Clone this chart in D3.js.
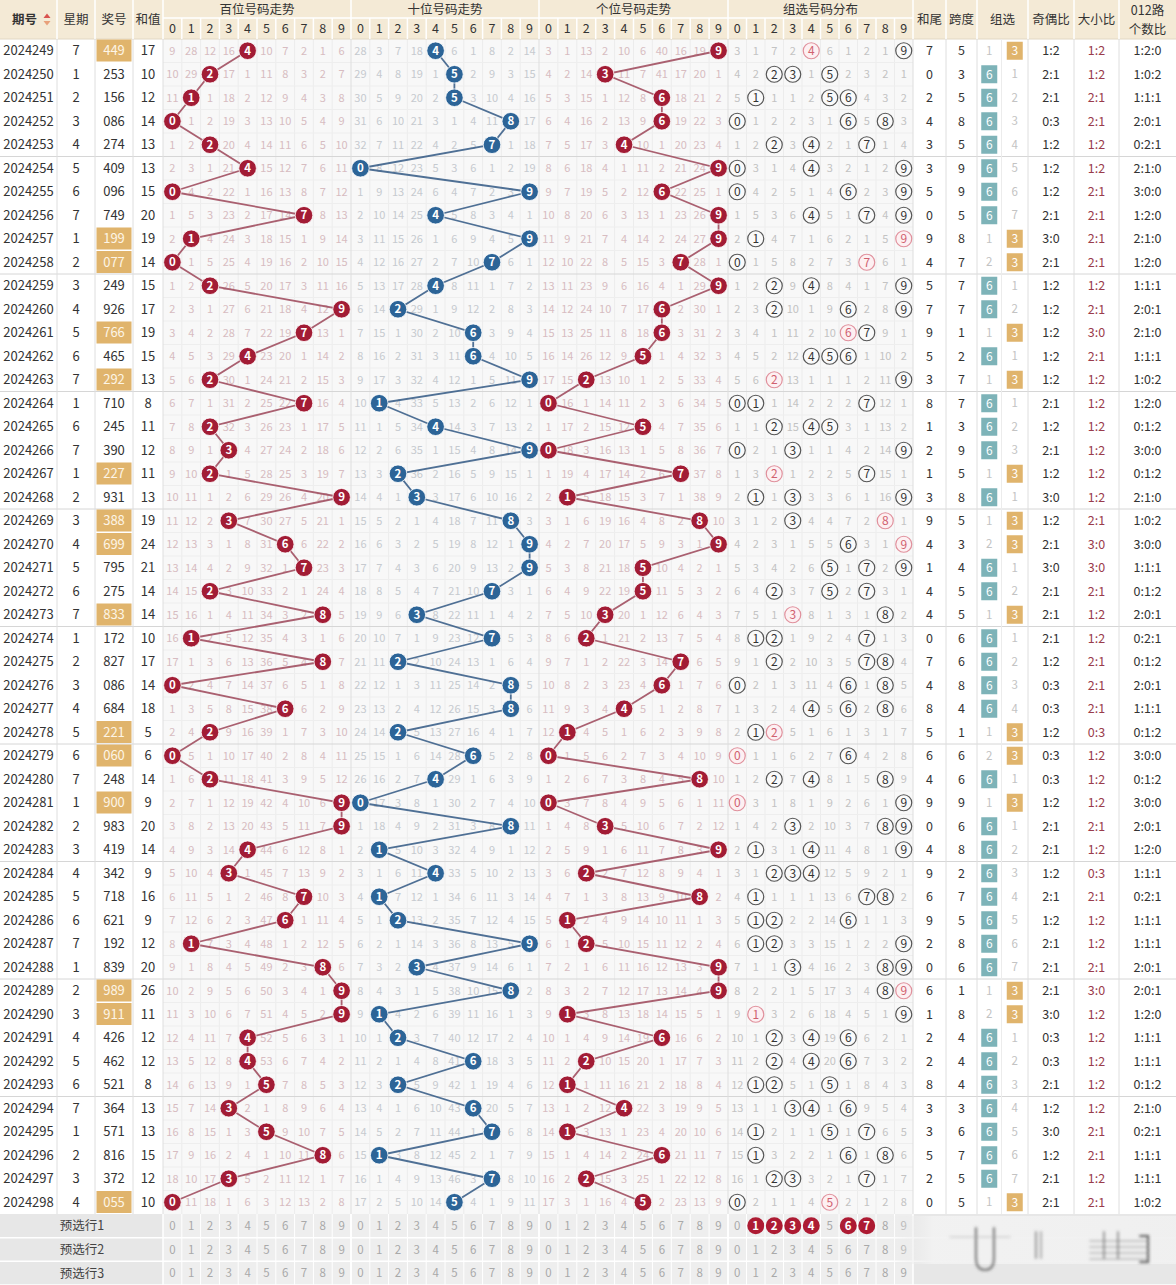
<!DOCTYPE html>
<html><head><meta charset="utf-8">
<script src="https://cdn.jsdelivr.net/npm/d3@7"></script>
<style>
body{margin:0;background:#fff;}
svg{display:block;font-family:"Noto Sans CJK SC","Noto Sans",sans-serif;}
</style>
</head><body>
<svg id="c" width="1176" height="1285"></svg>
<script>
// ---------------- DATA ----------------
const periods=["2024249","2024250","2024251","2024252","2024253","2024254","2024255","2024256","2024257","2024258",
"2024259","2024260","2024261","2024262","2024263","2024264","2024265","2024266","2024267","2024268",
"2024269","2024270","2024271","2024272","2024273","2024274","2024275","2024276","2024277","2024278",
"2024279","2024280","2024281","2024282","2024283","2024284","2024285","2024286","2024287","2024288",
"2024289","2024290","2024291","2024292","2024293","2024294","2024295","2024296","2024297","2024298"];
const weekdays=[7,1,2,3,4,5,6,7,1,2, 3,4,5,6,7,1,6,7,1,2, 3,4,5,6,7,1,2,3,4,5, 6,7,1,2,3,4,5,6,7,1, 2,3,4,5,6,7,1,2,3,4];
const draws=["449","253","156","086","274","409","096","749","199","077",
"249","926","766","465","292","710","245","390","227","931",
"388","699","795","275","833","172","827","086","684","221",
"060","248","900","983","419","342","718","621","192","839",
"989","911","426","462","521","364","571","816","372","055"];
const sums=[17,10,12,14,13,13,15,20,19,14, 15,17,19,15,13,8,11,12,11,13, 19,24,21,14,14,10,17,14,18,5, 6,14,9,20,14,9,16,9,12,20, 26,11,12,12,8,13,13,15,12,10];
// omission values shown on the first row (2024249)
const hundredsMissFirst=[9,28,12,16,0,10,7,2,1,6];
const tensMissFirst=[28,3,7,18,0,6,1,8,2,14];
const unitsMissFirst=[3,1,13,2,10,6,40,16,19,0];
const groupMissFirst=[3,1,7,2,0,6,1,2,1,0];
const zu6MissFirst=1, zu3MissFirst=0;
const preselectPicks=[1,2,3,4,6,7];
const digitLabels=["0","1","2","3","4","5","6","7","8","9"];
const sectionTitles=["百位号码走势","十位号码走势","个位号码走势","组选号码分布"];
const preselectLabels=["预选行1","预选行2","预选行3"];

// ---------------- DERIVED ----------------
const digits=draws.map(s=>s.split("").map(Number));
function missSeries(first,hit){
  const out=[];let cur=first.slice();
  digits.forEach((dg,i)=>{ if(i>0) cur=cur.map((v,d)=>hit(dg,d)?0:v+1); out.push(cur.slice()); });
  return out;
}
const missH=missSeries(hundredsMissFirst,(dg,d)=>dg[0]===d);
const missT=missSeries(tensMissFirst,(dg,d)=>dg[1]===d);
const missU=missSeries(unitsMissFirst,(dg,d)=>dg[2]===d);
const missG=missSeries(groupMissFirst,(dg,d)=>dg.includes(d));
const isZ3=digits.map(dg=>new Set(dg).size===2);
const zu6=[],zu3=[];
{let a=zu6MissFirst,b=zu3MissFirst;
 digits.forEach((dg,i)=>{ if(i>0){a=isZ3[i]?a+1:0;b=isZ3[i]?0:b+1;} zu6.push(a);zu3.push(b);});}
const heWei=sums.map(s=>s%10);
const kuaDu=digits.map(dg=>d3.max(dg)-d3.min(dg));
const jiOu=digits.map(dg=>{const o=dg.filter(d=>d%2).length;return o+":"+(3-o);});
const daXiao=digits.map(dg=>{const b=dg.filter(d=>d>=5).length;return b+":"+(3-b);});
const lu012=digits.map(dg=>[0,1,2].map(r=>dg.filter(d=>d%3===r).length).join(":"));

// ---------------- LAYOUT ----------------
const svg=d3.select("#c");
const W=1176,H=1285,hdr1=18,hdrH=39,rowH=23.5,N=periods.length;
const bodyBottom=hdrH+rowH*N;
const y=d3.scaleBand().domain(d3.range(N)).range([hdrH,bodyBottom]);
const yp=d3.scaleBand().domain(d3.range(3)).range([bodyBottom,H]);
const cy=i=>y(i)+y.bandwidth()/2;
const cols={qh:[0,57],xq:[57,95],jh:[95,133],hz:[133,163],
  H:[163,351],T:[351,539],U:[539,728],G:[728,913],
  hw:[913,946],kd:[946,977],zx:[977,1028],jo:[1028,1074],dx:[1074,1119],lu:[1119,1176]};
const band=k=>d3.scaleBand().domain(d3.range(10)).range(cols[k]);
const xs={H:band("H"),T:band("T"),U:band("U"),G:band("G")};
const cx=(k,d)=>xs[k](d)+xs[k].bandwidth()/2;
const mid=k=>(cols[k][0]+cols[k][1])/2;

// backgrounds
svg.append("rect").attr("width",W).attr("height",H).attr("fill","#fff");
["H","T","U","G"].forEach(k=>{
  svg.append("rect").attr("x",cols[k][0]).attr("y",hdrH).attr("width",cols[k][1]-cols[k][0]).attr("height",bodyBottom-hdrH).attr("fill","#f8f8f8");
});
// header background
svg.append("rect").attr("width",W).attr("height",hdrH).attr("fill","#f4ead6");

// grid in trend sections
const grid=svg.append("g");
["H","T","U","G"].forEach(k=>{
  d3.range(1,10).forEach(d=>grid.append("line").attr("x1",xs[k](d)).attr("x2",xs[k](d)).attr("y1",hdrH).attr("y2",bodyBottom).attr("stroke","#ececec"));
});
d3.range(1,N).forEach(i=>{
  const five=i%5===0;
  grid.append("line").attr("x1",five?0:cols.H[0]).attr("x2",five?W:cols.G[1]).attr("y1",y(i)).attr("y2",y(i))
    .attr("stroke",five?"#d6d6d6":"#eeeeee");
});
grid.append("line").attr("x1",0).attr("x2",W).attr("y1",hdrH).attr("y2",hdrH).attr("stroke","#e2d8c4");
// vertical column separators (body)
Object.values(cols).forEach(c=>{ if(c[0]>0) grid.append("line").attr("x1",c[0]).attr("x2",c[0]).attr("y1",hdrH).attr("y2",bodyBottom).attr("stroke","#dedede");});
grid.append("line").attr("x1",1001.5).attr("x2",1001.5).attr("y1",hdrH).attr("y2",bodyBottom).attr("stroke","#ececec");

// header cells borders & text
const hg=svg.append("g").attr("fill","#333").attr("font-size",12.5).attr("text-anchor","middle");
const wl=(x1,y1,x2,y2)=>hg.append("line").attr("x1",x1).attr("y1",y1).attr("x2",x2).attr("y2",y2).attr("stroke","#fff").attr("stroke-width",1.5);
Object.values(cols).forEach(c=>{ if(c[0]>0) wl(c[0],0,c[0],hdrH);});
["H","T","U","G"].forEach((k,si)=>{
  wl(cols[k][0],hdr1,cols[k][1],hdr1);
  d3.range(1,10).forEach(d=>wl(xs[k](d),hdr1,xs[k](d),hdrH));
  hg.append("text").attr("x",mid(k)).attr("y",hdr1/2).attr("dy","0.36em").text(sectionTitles[si]);
  digitLabels.forEach((t,d)=>hg.append("text").attr("x",cx(k,d)).attr("y",(hdr1+hdrH)/2).attr("dy","0.36em").text(t));
});
[["qh","期号"],["xq","星期"],["jh","奖号"],["hz","和值"],["hw","和尾"],["kd","跨度"],["zx","组选"],["jo","奇偶比"],["dx","大小比"]].forEach(([k,t])=>{
  hg.append("text").attr("x",k==="qh"?mid(k)-4:mid(k)).attr("y",hdrH/2).attr("dy","0.36em").attr("font-weight",k==="qh"?600:400).text(t);
});
hg.append("text").attr("x",mid("lu")).attr("y",10).attr("dy","0.36em").text("012路");
hg.append("text").attr("x",mid("lu")).attr("y",29).attr("dy","0.36em").text("个数比");
// sort icon
hg.append("path").attr("d",`M${mid("qh")+15},${hdrH/2-1.5} l3.5,-4.5 l3.5,4.5z`).attr("fill","#d9534f");
hg.append("path").attr("d",`M${mid("qh")+15},${hdrH/2+1.5} l3.5,4.5 l3.5,-4.5z`).attr("fill","#e8a07a");

// left columns
const lg=svg.append("g").attr("font-size",13).attr("fill","#333").attr("text-anchor","middle");
periods.forEach((p,i)=>{
  lg.append("text").attr("x",mid("qh")).attr("y",cy(i)).attr("dy","0.36em").text(p);
  lg.append("text").attr("x",mid("xq")).attr("y",cy(i)).attr("dy","0.36em").text(weekdays[i]);
  if(isZ3[i]) lg.append("rect").attr("x",cols.jh[0]+1.5).attr("y",y(i)+0.5).attr("width",cols.jh[1]-cols.jh[0]-3).attr("height",rowH-1.5).attr("fill","#e0b46c");
  lg.append("text").attr("x",mid("jh")).attr("y",cy(i)).attr("dy","0.36em").attr("fill",isZ3[i]?"#fdf5e6":"#333").text(draws[i]);
  lg.append("text").attr("x",mid("hz")).attr("y",cy(i)).attr("dy","0.36em").text(sums[i]);
});

// omission numbers
const og=svg.append("g").attr("font-size",11).attr("text-anchor","middle");
const sectionMiss={H:missH,T:missT,U:missU,G:missG};
const missColor={H:"#d7bcc1",T:"#c6cacf",U:"#d7bcc1",G:"#c3c3c3"};
["H","T","U","G"].forEach(k=>{
  sectionMiss[k].forEach((row,i)=>row.forEach((v,d)=>{
    if(v===0) return;
    og.append("text").attr("x",cx(k,d)).attr("y",cy(i)).attr("dy","0.36em").attr("fill",missColor[k]).text(v);
  }));
});

// trend lines + balls
const trend=[["H",0,"#a14f60","#a21c35"],["T",1,"#3c6189","#2c6497"],["U",2,"#a14f60","#a21c35"]];
trend.forEach(([k,pos,lc,bc])=>{
  const line=d3.line().x(i=>cx(k,digits[i][pos])).y(i=>cy(i));
  svg.append("path").attr("d",line(d3.range(N))).attr("fill","none").attr("stroke",lc).attr("stroke-width",1.8).attr("stroke-opacity",0.9);
});
trend.forEach(([k,pos,lc,bc])=>{
  const g=svg.append("g");
  digits.forEach((dg,i)=>{
    g.append("circle").attr("cx",cx(k,dg[pos])).attr("cy",cy(i)).attr("r",8.8).attr("fill",bc).attr("stroke","#fff").attr("stroke-width",0.8);
    g.append("text").attr("x",cx(k,dg[pos])).attr("y",cy(i)).attr("dy","0.36em").attr("text-anchor","middle")
      .attr("fill","#fff").attr("font-size",11.5).attr("font-weight",700).text(dg[pos]);
  });
});

// group distribution circles
const gg=svg.append("g").attr("text-anchor","middle");
digits.forEach((dg,i)=>{
  [...new Set(dg)].forEach(d=>{
    const pair=dg.filter(v=>v===d).length>1;
    gg.append("circle").attr("cx",cx("G",d)).attr("cy",cy(i)).attr("r",8).attr("fill",pair?"#fdf0f2":"#fafafa")
      .attr("stroke",pair?"#e0909c":"#555").attr("stroke-width",1.2);
    gg.append("text").attr("x",cx("G",d)).attr("y",cy(i)).attr("dy","0.36em").attr("font-size",12)
      .attr("fill",pair?"#d0606f":"#333").text(d);
  });
});

// right columns
const rg=svg.append("g").attr("font-size",12.5).attr("text-anchor","middle").attr("fill","#333");
const zxL=(cols.zx[0]+1001.5)/2, zxR=(1001.5+cols.zx[1])/2;
periods.forEach((p,i)=>{
  rg.append("text").attr("x",mid("hw")).attr("y",cy(i)).attr("dy","0.36em").text(heWei[i]);
  rg.append("text").attr("x",mid("kd")).attr("y",cy(i)).attr("dy","0.36em").text(kuaDu[i]);
  if(!isZ3[i]){
    rg.append("rect").attr("x",zxL-8).attr("y",cy(i)-9).attr("width",16).attr("height",18).attr("fill","#7db3b8");
    rg.append("text").attr("x",zxL).attr("y",cy(i)).attr("dy","0.36em").attr("fill","#fff").attr("font-size",12).text("6");
    rg.append("text").attr("x",zxR).attr("y",cy(i)).attr("dy","0.36em").attr("fill","#c3c3c3").attr("font-size",11.5).text(zu3[i]);
  } else {
    rg.append("rect").attr("x",zxR-8).attr("y",cy(i)-9).attr("width",16).attr("height",18).attr("fill","#e0b46c");
    rg.append("text").attr("x",zxR).attr("y",cy(i)).attr("dy","0.36em").attr("fill","#fff").attr("font-size",12).text("3");
    rg.append("text").attr("x",zxL).attr("y",cy(i)).attr("dy","0.36em").attr("fill","#c3c3c3").attr("font-size",11.5).text(zu6[i]);
  }
  rg.append("text").attr("x",mid("jo")).attr("y",cy(i)).attr("dy","0.36em").text(jiOu[i]);
  rg.append("text").attr("x",mid("dx")).attr("y",cy(i)).attr("dy","0.36em").attr("fill","#9a3c4c").text(daXiao[i]);
  rg.append("text").attr("x",mid("lu")).attr("y",cy(i)).attr("dy","0.36em").text(lu012[i]);
});

// preselect rows
const pg=svg.append("g").attr("text-anchor","middle");
pg.append("rect").attr("x",0).attr("y",bodyBottom).attr("width",W).attr("height",H-bodyBottom).attr("fill","#e7e7e7");
d3.range(3).forEach(r=>{
  pg.append("rect").attr("x",cols.H[0]).attr("y",yp(r)).attr("width",cols.G[1]-cols.H[0]).attr("height",yp.bandwidth()).attr("fill","#eeeeee");
  pg.append("text").attr("x",82).attr("y",yp(r)+yp.bandwidth()/2).attr("dy","0.36em").attr("font-size",12.5).attr("fill","#444").text(preselectLabels[r]);
  ["H","T","U","G"].forEach(k=>{
    digitLabels.forEach((t,d)=>{
      const picked=(r===0&&k==="G"&&preselectPicks.includes(d));
      const px=cx(k,d),py=yp(r)+yp.bandwidth()/2;
      if(picked){
        pg.append("circle").attr("cx",px).attr("cy",py).attr("r",8.5).attr("fill","#ad1b33");
        pg.append("text").attr("x",px).attr("y",py).attr("dy","0.36em").attr("font-size",11.5).attr("font-weight",700).attr("fill","#fff").text(t);
      } else {
        pg.append("text").attr("x",px).attr("y",py).attr("dy","0.36em").attr("font-size",11.5).attr("fill","#a9a9a9").text(t);
      }
    });
  });
});
// white cell borders in preselect area
d3.range(0,4).forEach(r=>pg.append("line").attr("x1",0).attr("x2",W).attr("y1",yp(r)||H).attr("y2",yp(r)||H).attr("stroke","#fff").attr("stroke-width",r===0?0:1.5));
["H","T","U","G"].forEach(k=>{
  d3.range(0,11).forEach(d=>{
    const xx=d<10?xs[k](d):cols[k][1];
    pg.append("line").attr("x1",xx).attr("x2",xx).attr("y1",bodyBottom).attr("y2",H).attr("stroke","#fff").attr("stroke-width",d===0||d===10?1.5:1);
  });
});

// blurred overlay artifact (bottom right of original screenshot)
const defs=svg.append("defs");
defs.append("filter").attr("id","bl").append("feGaussianBlur").attr("stdDeviation",1.6);
const gr=defs.append("linearGradient").attr("id","og").attr("x1",0).attr("x2",1);
gr.append("stop").attr("offset",0).attr("stop-color","#e7e7e7").attr("stop-opacity",0);
gr.append("stop").attr("offset",0.15).attr("stop-color","#f2f2f2").attr("stop-opacity",0.95);
gr.append("stop").attr("offset",1).attr("stop-color","#f0f0f0").attr("stop-opacity",0.95);
const ov=svg.append("g");
ov.append("rect").attr("x",890).attr("y",bodyBottom+2).attr("width",W-890).attr("height",48).attr("fill","url(#og)");
const ovs=ov.append("g").attr("filter","url(#bl)").attr("fill","none").attr("stroke-linecap","round");
ovs.append("path").attr("d","M976,1228 L976,1258 Q976,1270 985,1270 Q994,1270 994,1258 L994,1228").attr("stroke","#555").attr("stroke-width",2.2).attr("stroke-opacity",0.75);
[[1036,"#666"],[1041,"#888"],[1104,"#666"],[1118,"#666"]].forEach(([x,c])=>ovs.append("line").attr("x1",x).attr("x2",x).attr("y1",1232).attr("y2",1258).attr("stroke",c).attr("stroke-width",1.8).attr("stroke-opacity",0.7));
[1241,1247,1253,1259].forEach(yy=>ovs.append("line").attr("x1",1090).attr("x2",1146).attr("y1",yy).attr("y2",yy).attr("stroke","#777").attr("stroke-width",1.4).attr("stroke-opacity",0.5));
ovs.append("path").attr("d","M1140,1236 L1148,1236 L1148,1262 L1140,1262").attr("stroke","#333").attr("stroke-width",2).attr("stroke-opacity",0.8);
ovs.append("line").attr("x1",950).attr("x2",1010).attr("y1",1237).attr("y2",1237).attr("stroke","#999").attr("stroke-width",1.5).attr("stroke-opacity",0.4);
</script>
</body></html>
